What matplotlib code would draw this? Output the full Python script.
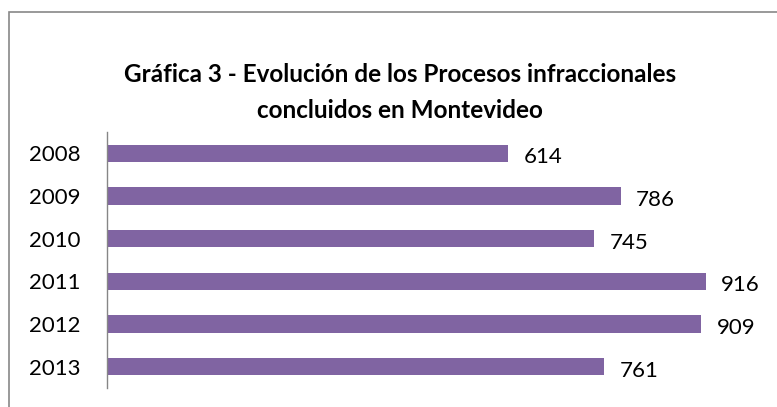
import matplotlib.pyplot as plt
from matplotlib.patches import Rectangle

years = ["2008", "2009", "2010", "2011", "2012", "2013"]
values = [614, 786, 745, 916, 909, 761]

plt.rcParams["font.family"] = ["Lato", "DejaVu Sans"]

fig = plt.figure(figsize=(7.77, 4.07), dpi=100)
ax = fig.add_axes([0.1377, 0.0467, 0.979 - 0.1377, 0.6757 - 0.0467])

pos = list(range(len(years)))
ax.barh(pos, values, height=0.4, color="#8064A2")
ax.set_ylim(len(years) - 0.5, -0.5)
ax.set_xlim(0, 1000)
ax.set_yticks(pos)
ax.set_yticklabels(years, fontsize=16)
ax.tick_params(axis="y", length=0, pad=19)
ax.set_xticks([])

for s in ["top", "right", "bottom"]:
    ax.spines[s].set_visible(False)
ax.spines["left"].set_color("#868686")
ax.spines["left"].set_linewidth(1.0)

for p, v in zip(pos, values):
    ax.annotate(str(v), (v, p), xytext=(11, -3), textcoords="offset points",
                ha="left", va="center", fontsize=16)

fig.text(0.515, 1 - 75 / 407, "Gráfica 3 - Evolución de los Procesos infraccionales",
         ha="center", va="center", fontsize=17.5, fontweight="bold")
fig.text(0.515, 1 - 111 / 407, "concluidos en Montevideo",
         ha="center", va="center", fontsize=17.5, fontweight="bold")

# outer chart border (only left and top fall inside the image)
fig.patches.append(Rectangle((9 / 777, -0.05), 1.2, 1 - 12 / 407 + 0.05,
                             transform=fig.transFigure, fill=False,
                             edgecolor="#888888", linewidth=1.2))

fig.savefig("out.png", dpi=100)
